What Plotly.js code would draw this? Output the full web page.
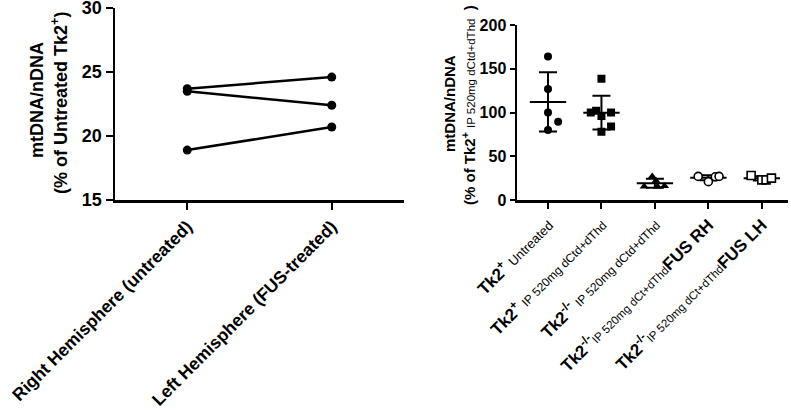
<!DOCTYPE html>
<html>
<head>
<meta charset="utf-8">
<script src="https://cdn.plot.ly/plotly-3.0.1.min.js"></script>
<style>html,body{margin:0;padding:0;background:#fff;}#chart{width:791px;height:412px;}</style>
</head>
<body>
<div id="chart"></div>
<script>
// ---- Left panel data (paired hemispheres) ----
const hemiCats = ['Right Hemisphere (untreated)', 'Left Hemisphere (FUS-treated)'];
const mouseA = [23.7, 24.6];
const mouseB = [23.5, 22.4];
const mouseC = [18.9, 20.7];
const leftYTicks = [15, 20, 25, 30];

// ---- Right panel data (groups) ----
const groupLabels = [
  '<b>Tk2<sup>+</sup></b> <span style="font-size:13px;font-weight:normal">Untreated</span>',
  '<b>Tk2<sup>+</sup></b> <span style="font-size:12px;font-weight:normal">IP 520mg dCtd+dThd</span>',
  '<b>Tk2<sup>-/-</sup></b> <span style="font-size:12px;font-weight:normal">IP 520mg dCtd+dThd</span>',
  '<b>Tk2<sup>-/-</sup></b><span style="font-size:11.5px;font-weight:normal">IP 520mg dCt+dThd</span><b>FUS RH</b>',
  '<b>Tk2<sup>-/-</sup></b><span style="font-size:11.5px;font-weight:normal">IP 520mg dCt+dThd</span><b>FUS LH</b>'
];
const tk2Untreated = [164, 127, 100, 89.5, 80];
const tk2Treated = [138.6, 100, 102, 96, 100, 84, 78];
const tk2KoTreated = [27, 22, 15.5, 15.5, 16];
const fusRH = [27, 21, 26.5, 27];
const fusLH = [28, 23, 23, 25];
const rightYTicks = [0, 50, 100, 150, 200];

// ---- horizontal spread of the dots inside a column (layout only) ----
const spread = [
  [0, 0, 0, 0.19, 0],
  [0, -0.2, -0.1, 0, 0.18, 0.18, 0],
  [-0.05, 0.02, -0.2, 0.05, 0.18],
  [-0.19, 0, 0.13, 0.2],
  [-0.2, 0, 0.08, 0.18]
];
const groups = [tk2Untreated, tk2Treated, tk2KoTreated, fusRH, fusLH];
const symbols = ['circle', 'square', 'triangle-up', 'circle', 'square'];
const filled = [true, true, true, false, false];

function mean(a){ return a.reduce((s,v)=>s+v,0)/a.length; }
function sd(a){ const m=mean(a); return Math.sqrt(a.reduce((s,v)=>s+(v-m)*(v-m),0)/(a.length-1)); }

const traces = [];
[mouseA, mouseB, mouseC].forEach(vals => {
  traces.push({
    x: [0, 1], y: vals, xaxis: 'x', yaxis: 'y', mode: 'lines+markers',
    line: {color: '#000', width: 2.5}, marker: {color: '#000', size: 9},
    showlegend: false, hoverinfo: 'skip'
  });
});

groups.forEach((vals, i) => {
  const m = mean(vals), s = sd(vals);
  traces.push({
    x: [i - 0.34, i + 0.34], y: [m, m], xaxis: 'x2', yaxis: 'y2', mode: 'lines',
    line: {color: '#000', width: 2}, showlegend: false, hoverinfo: 'skip'
  });
  traces.push({
    x: [i], y: [m], xaxis: 'x2', yaxis: 'y2', mode: 'markers',
    marker: {size: 1, color: 'rgba(0,0,0,0)'},
    error_y: {type: 'data', array: [s], visible: true, color: '#000', thickness: 2, width: 9},
    showlegend: false, hoverinfo: 'skip'
  });
  traces.push({
    x: vals.map((v, k) => i + spread[i][k]), y: vals, xaxis: 'x2', yaxis: 'y2', mode: 'markers',
    marker: {symbol: symbols[i], size: 8, color: filled[i] ? '#000' : '#fff',
             line: {color: '#000', width: filled[i] ? 0 : 1.6}},
    showlegend: false, hoverinfo: 'skip'
  });
});

const W = 791, H = 412;
const px = v => v / W;
const py = v => 1 - v / H;
const baseFont = {family: 'Liberation Sans, Arial, sans-serif', color: '#000'};

const layout = {
  width: W, height: H,
  margin: {l: 0, r: 0, t: 0, b: 0},
  paper_bgcolor: '#fff', plot_bgcolor: '#fff',
  showlegend: false,
  xaxis: {
    domain: [px(115), px(404)], range: [-0.5, 1.5],
    tickmode: 'array', tickvals: [0, 1], ticktext: hemiCats.map(t => '<b>' + t + '</b>'),
    tickangle: -45, ticks: 'outside', ticklen: 7, tickwidth: 2, tickcolor: '#000',
    showline: true, linecolor: '#000', linewidth: 2.5, showgrid: false, zeroline: false,
    tickfont: Object.assign({size: 17.5}, baseFont), anchor: 'y', automargin: false,
    ticklabeloverflow: 'allow'
  },
  yaxis: {
    domain: [py(200), py(8)], range: [15, 30],
    tickmode: 'array', tickvals: leftYTicks, ticktext: leftYTicks.map(v => '<b>' + v + '</b>'),
    ticks: 'outside', ticklen: 7, tickwidth: 2, tickcolor: '#000',
    showline: true, linecolor: '#000', linewidth: 2.5, showgrid: false, zeroline: false,
    tickfont: Object.assign({size: 18}, baseFont), anchor: 'x', automargin: false,
    ticklabeloverflow: 'allow'
  },
  xaxis2: {
    domain: [px(517), px(788)], range: [-0.58, 4.49],
    tickmode: 'array', tickvals: [0, 1, 2, 3, 4], ticktext: groupLabels,
    tickangle: -45, ticks: 'outside', ticklen: 6, tickwidth: 2, tickcolor: '#000',
    showline: true, linecolor: '#000', linewidth: 2.5, showgrid: false, zeroline: false,
    tickfont: Object.assign({size: 17}, baseFont), anchor: 'y2', automargin: false,
    ticklabeloverflow: 'allow'
  },
  yaxis2: {
    domain: [py(200), py(25)], range: [0, 200],
    tickmode: 'array', tickvals: rightYTicks, ticktext: rightYTicks.map(v => '<b>' + v + '</b>'),
    ticks: 'outside', ticklen: 5, tickwidth: 2, tickcolor: '#000',
    showline: true, linecolor: '#000', linewidth: 2.5, showgrid: false, zeroline: false,
    tickfont: Object.assign({size: 16}, baseFont), anchor: 'x2', automargin: false,
    ticklabeloverflow: 'allow'
  },
  annotations: [
    {xref: 'paper', yref: 'paper', x: px(37), y: py(100), xanchor: 'center', yanchor: 'middle',
     textangle: -90, showarrow: false, text: '<b>mtDNA/nDNA</b>', font: Object.assign({size: 18}, baseFont)},
    {xref: 'paper', yref: 'paper', x: px(59), y: py(103), xanchor: 'center', yanchor: 'middle',
     textangle: -90, showarrow: false, text: '<b>(% of Untreated Tk2<sup>+</sup>)</b>', font: Object.assign({size: 18}, baseFont)},
    {xref: 'paper', yref: 'paper', x: px(449), y: py(104), xanchor: 'center', yanchor: 'middle',
     textangle: -90, showarrow: false, text: '<b>mtDNA/nDNA</b>', font: Object.assign({size: 15}, baseFont)},
    {xref: 'paper', yref: 'paper', x: px(468), y: py(105), xanchor: 'center', yanchor: 'middle',
     textangle: -90, showarrow: false,
     text: '<b>(% of Tk2<sup>+</sup></b> <span style="font-size:11.5px">IP 520mg dCtd+dThd</span>  <b>)</b>',
     font: Object.assign({size: 15}, baseFont)}
  ]
};

Plotly.newPlot('chart', traces, layout, {staticPlot: true});
</script>
</body>
</html>
